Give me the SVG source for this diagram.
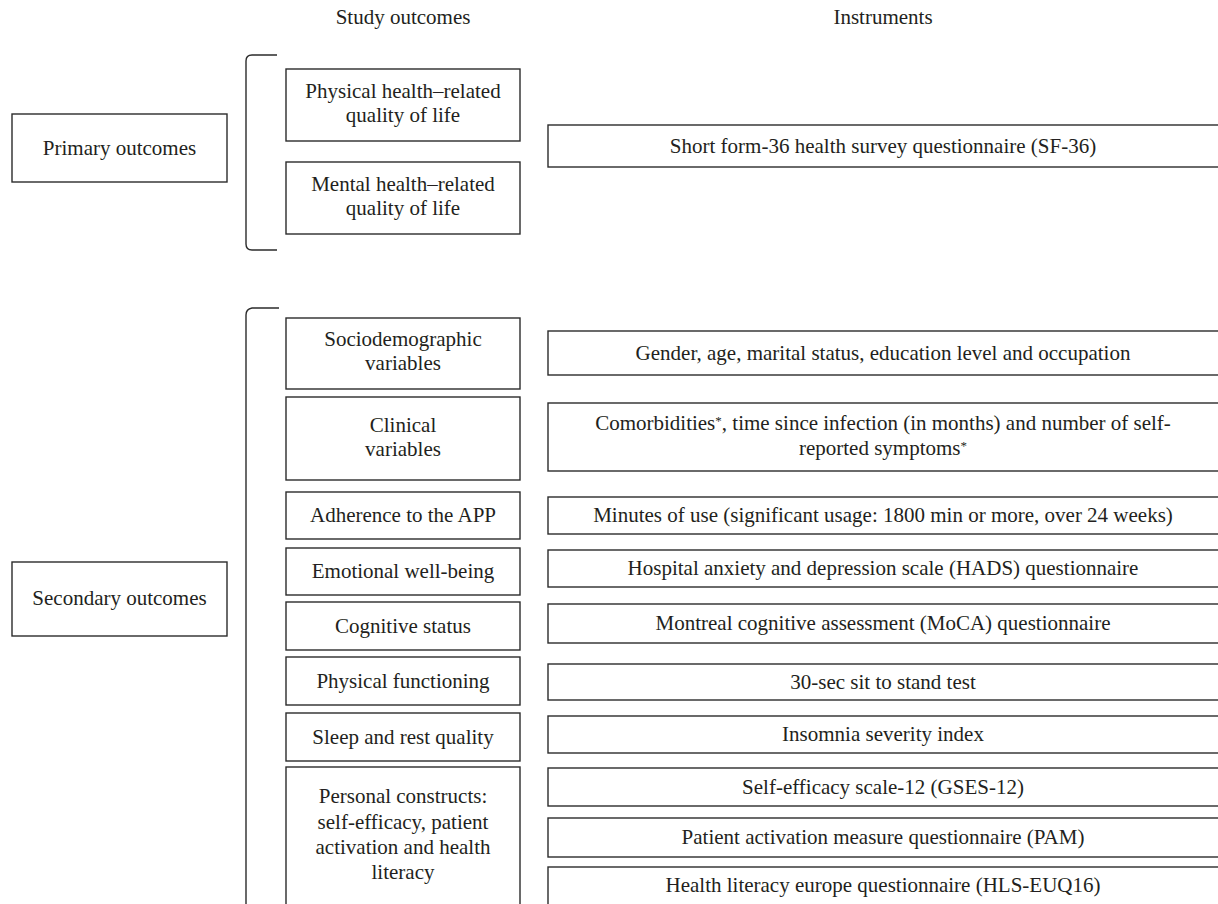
<svg xmlns="http://www.w3.org/2000/svg" width="1218" height="904" viewBox="0 0 1218 904">
<style>
.b{fill:#ffffff;stroke:#2b2b2b;stroke-width:1.4}
.t{font-family:"Liberation Serif","Times New Roman",serif;font-size:21px;fill:#231f20;text-anchor:middle}
.br{fill:none;stroke:#2b2b2b;stroke-width:1.4}
.ast{font-size:13px}
</style>
<rect width="1218" height="904" fill="#ffffff"/>
<g id="headers">
<text class="t" x="403" y="24">Study outcomes</text>
<text class="t" x="883" y="24">Instruments</text>
</g>
<g id="connectors">
<path class="br" d="M277,55 H252 Q246,55 246,61 V244 Q246,250 252,250 H277"/>
<path class="br" d="M279,308 H252 Q246,309 246,315 V912"/>
</g>
<g id="primary"><rect class="b" x="12" y="114" width="215" height="68"/><text class="t" x="119.5" y="155">Primary outcomes</text></g>
<g id="secondary"><rect class="b" x="12" y="562" width="215" height="74"/><text class="t" x="119.5" y="605">Secondary outcomes</text></g>
<g id="physical-qol"><rect class="b" x="286" y="69" width="234" height="72"/><text class="t" x="403" y="98">Physical health–related</text><text class="t" x="403" y="122">quality of life</text></g>
<g id="mental-qol"><rect class="b" x="286" y="162" width="234" height="72"/><text class="t" x="403" y="191">Mental health–related</text><text class="t" x="403" y="215">quality of life</text></g>
<g id="sociodemographic"><rect class="b" x="286" y="318" width="234" height="71"/><text class="t" x="403" y="346">Sociodemographic</text><text class="t" x="403" y="370">variables</text></g>
<g id="clinical"><rect class="b" x="286" y="397" width="234" height="83"/><text class="t" x="403" y="432">Clinical</text><text class="t" x="403" y="456">variables</text></g>
<g id="adherence"><rect class="b" x="286" y="492" width="234" height="47"/><text class="t" x="403" y="522">Adherence to the APP</text></g>
<g id="emotional"><rect class="b" x="286" y="548" width="234" height="47"/><text class="t" x="403" y="578">Emotional well-being</text></g>
<g id="cognitive"><rect class="b" x="286" y="602" width="234" height="48"/><text class="t" x="403" y="633">Cognitive status</text></g>
<g id="physical-functioning"><rect class="b" x="286" y="657" width="234" height="48"/><text class="t" x="403" y="688">Physical functioning</text></g>
<g id="sleep"><rect class="b" x="286" y="713" width="234" height="48"/><text class="t" x="403" y="744">Sleep and rest quality</text></g>
<g id="personal"><rect class="b" x="286" y="767" width="234" height="150"/><text class="t" x="403" y="803">Personal constructs:</text><text class="t" x="403" y="829">self-efficacy, patient</text><text class="t" x="403" y="854">activation and health</text><text class="t" x="403" y="879">literacy</text></g>
<g id="sf36"><rect class="b" x="548" y="125" width="690" height="42"/><text class="t" x="883" y="153">Short form-36 health survey questionnaire (SF-36)</text></g>
<g id="demographics-instr"><rect class="b" x="548" y="331" width="690" height="44"/><text class="t" x="883" y="360">Gender, age, marital status, education level and occupation</text></g>
<g id="clinical-instr"><rect class="b" x="548" y="403" width="690" height="68"/><text class="t" x="883" y="430">Comorbidities<tspan class="ast" dy="-5">*</tspan><tspan dy="5">, time since infection (in months) and number of self-</tspan></text><text class="t" x="883" y="455">reported symptoms<tspan class="ast" dy="-5">*</tspan></text></g>
<g id="adherence-instr"><rect class="b" x="548" y="497" width="690" height="37"/><text class="t" x="883" y="522">Minutes of use (significant usage: 1800 min or more, over 24 weeks)</text></g>
<g id="hads"><rect class="b" x="548" y="550" width="690" height="37"/><text class="t" x="883" y="575">Hospital anxiety and depression scale (HADS) questionnaire</text></g>
<g id="moca"><rect class="b" x="548" y="604" width="690" height="39"/><text class="t" x="883" y="630">Montreal cognitive assessment (MoCA) questionnaire</text></g>
<g id="sit-stand"><rect class="b" x="548" y="664" width="690" height="36"/><text class="t" x="883" y="689">30-sec sit to stand test</text></g>
<g id="insomnia"><rect class="b" x="548" y="716" width="690" height="37"/><text class="t" x="883" y="741">Insomnia severity index</text></g>
<g id="gses"><rect class="b" x="548" y="768" width="690" height="38"/><text class="t" x="883" y="794">Self-efficacy scale-12 (GSES-12)</text></g>
<g id="pam"><rect class="b" x="548" y="818" width="690" height="39"/><text class="t" x="883" y="844">Patient activation measure questionnaire (PAM)</text></g>
<g id="hls"><rect class="b" x="548" y="867" width="690" height="50"/><text class="t" x="883" y="892">Health literacy europe questionnaire (HLS-EUQ16)</text></g>
</svg>
